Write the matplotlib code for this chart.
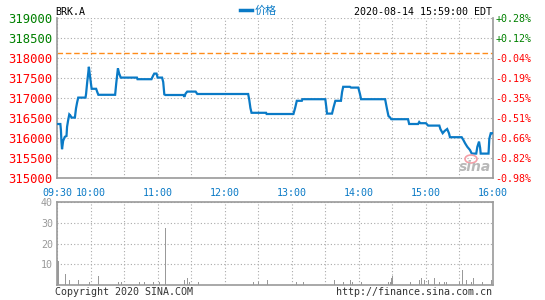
import matplotlib
matplotlib.use("Agg")
import matplotlib.pyplot as plt
from matplotlib.patches import Ellipse

# price line: minutes after 09:30 and price at that point
minutes = [0, 3, 3.5, 4, 4.5, 5.5, 7, 8.5, 9, 10, 11, 12, 13, 16, 17, 18, 19,
           25.5, 26, 27, 28, 28.5, 29.5, 30.5, 31, 35, 36, 37, 52, 53, 54, 54.5,
           55.5, 57, 71.5, 72, 84.5, 86, 87, 89, 90, 94, 95, 96, 97, 113, 114,
           115, 116.5, 124, 125.5, 171, 172, 173, 174, 187, 187.5, 211.5, 213,
           214.5, 219, 219.5, 240, 241, 241.5, 246, 247.5, 249, 254, 255, 256,
           262, 263, 269.5, 271, 272, 293.5, 295, 296.5, 298, 299, 314, 315,
           323, 324, 325, 330, 332, 342, 343, 345, 346.7, 349, 350.6, 351.5,
           362, 363.5, 365, 367, 369.4, 371, 375, 376, 377.5, 378.5, 379, 386,
           386.7, 388, 389]
prices = [316350, 316350, 316200, 315900, 315720, 315930, 316030, 316050,
          316280, 316450, 316590, 316560, 316510, 316510, 316740, 316890,
          317010, 317010, 317100, 317390, 317640, 317780, 317550, 317330,
          317230, 317230, 317150, 317080, 317080, 317370, 317620, 317740,
          317620, 317510, 317510, 317470, 317470, 317560, 317610, 317610,
          317510, 317510, 317400, 317090, 317075, 317075, 317030, 317110,
          317160, 317160, 317100, 317100, 316950, 316750, 316630, 316630,
          316600, 316600, 316750, 316930, 316930, 316970, 316970, 316750,
          316610, 316610, 316780, 316930, 316930, 317150, 317280, 317280,
          317260, 317260, 317100, 316970, 316970, 316750, 316550, 316510,
          316470, 316470, 316350, 316350, 316400, 316370, 316370, 316310,
          316310, 316220, 316120, 316175, 316225, 316120, 316020, 316020,
          315950, 315870, 315780, 315700, 315610, 315610, 315780, 315910,
          315750, 315610, 315610, 315980, 316120, 316120]
prev_close = 318125

# volume bars
vol_minutes = [0, 1, 5, 7, 11, 13, 19, 29, 30, 37, 55, 57, 73, 78, 86, 91, 97,
               114, 116, 118, 126, 175, 180, 188, 214, 220, 242, 248, 256, 262,
               264, 272, 296, 298, 299, 300, 316, 324, 326, 328, 332, 337, 342,
               344, 346, 348, 352, 360, 362, 366, 370, 372, 378, 380, 388]
volumes = [12, 11.5, 9.3, 5.5, 2.6, 1.6, 2.6, 1.6, 2.6, 4.5, 1.6, 1.6, 1.6,
           1.6, 1.6, 1.6, 27.3, 2.6, 3.5, 1.6, 1.6, 1.6, 1.6, 2.6, 1.6, 1.6,
           3.5, 2.6, 1.6, 2.6, 1.6, 1.6, 1.6, 1.6, 3.2, 4.5, 1.6, 2.6, 3.5,
           2.6, 2.6, 3.5, 1.6, 5.5, 1.6, 1.6, 2.6, 1.6, 7.4, 2.6, 1.6, 3.5,
           1.6, 1.6, 2.6]

price_ticks = [315000, 315500, 316000, 316500, 317000, 317500, 318000, 318500, 319000]
pct_labels = ["-0.98%", "-0.82%", "-0.66%", "-0.51%", "-0.35%", "-0.19%",
              "-0.04%", "+0.12%", "+0.28%"]
time_ticks = [0, 30, 90, 150, 210, 270, 330, 390]
time_labels = ["09:30", "10:00", "11:00", "12:00", "13:00", "14:00", "15:00", "16:00"]
vol_ticks = [10, 20, 30, 40]

MONO = "DejaVu Sans Mono"
GREEN = "#008000"
RED = "#ff0000"
BLUE = "#0a7ac6"
GRID = "#aaaaaa"
EDGE = "#999999"

fig = plt.figure(figsize=(5.45, 3.0), dpi=100)
ax = fig.add_axes([57 / 545, 1 - 178 / 300, 436 / 545, 160 / 300])
axv = fig.add_axes([57 / 545, 1 - 285 / 300, 436 / 545, 83 / 300])

# watermark (behind the line)
fig.text(475 / 545, 1 - 167 / 300, "sina", ha="center", va="center",
         fontsize=10, fontweight="bold", style="italic", color="#b8b8b8",
         zorder=0)
fig.patches.append(Ellipse((471 / 545, 1 - 159 / 300), 12 / 545, 8 / 300,
                           transform=fig.transFigure, fill=False,
                           edgecolor="#f5a0a8", lw=1.2, zorder=0))
ax.patch.set_alpha(0)

# main price panel
ax.plot(minutes, prices, color=BLUE, lw=1.6, solid_joinstyle="miter", zorder=3)
ax.axhline(prev_close, color="#ff8c1a", lw=1, ls=(0, (4, 2)), zorder=2)
ax.set_xlim(0, 390)
ax.set_ylim(315000, 319000)
ax.set_xticks(range(0, 391, 30))
ax.set_xticklabels([])
ax.set_yticks(price_ticks)
ax.set_yticklabels([str(p) for p in price_ticks], fontfamily=MONO, fontsize=8.8)
for lbl, p in zip(ax.get_yticklabels(), price_ticks):
    lbl.set_color(GREEN if p > prev_close else RED)
ax.tick_params(axis="y", length=0, pad=3)
ax.tick_params(axis="x", length=0)
ax.grid(True, color=GRID, ls=(0, (1, 2)), lw=0.8)
for side in ["left", "bottom", "right"]:
    ax.spines[side].set_color(EDGE)
    ax.spines[side].set_linewidth(1.2)
ax.spines["top"].set_visible(False)

axr = ax.twinx()
axr.set_ylim(ax.get_ylim())
axr.set_yticks(price_ticks)
axr.set_yticklabels(pct_labels, fontfamily=MONO, fontsize=7.2)
for lbl, p in zip(axr.get_yticklabels(), price_ticks):
    lbl.set_color(GREEN if p > prev_close else RED)
axr.tick_params(axis="y", length=0, pad=1.5)
axr.patch.set_alpha(0)
for s in axr.spines.values():
    s.set_visible(False)

for t, lab in zip(time_ticks, time_labels):
    ax.text(t, 314750, lab, ha="center", va="top", color=BLUE,
            fontfamily=MONO, fontsize=7.2, clip_on=False)

# header
fig.text(55 / 545, 1 - 12 / 300, "BRK.A", ha="left", va="center",
         fontfamily=MONO, fontsize=7.2, color="black")
fig.lines.append(plt.Line2D([240 / 545, 252 / 545], [1 - 10 / 300, 1 - 10 / 300],
                            transform=fig.transFigure, color=BLUE, lw=2.5))
fig.text(255 / 545, 1 - 11 / 300, "价格", ha="left", va="center",
         fontfamily=["Noto Sans CJK SC", "DejaVu Sans"], fontsize=8, color=BLUE)
fig.text(492 / 545, 1 - 12 / 300, "2020-08-14 15:59:00 EDT", ha="right",
         va="center", fontfamily=MONO, fontsize=7.2, color="black")

# volume panel
axv.bar(vol_minutes, volumes, width=0.8, color=EDGE, align="edge", zorder=3)
axv.set_xlim(0, 390)
axv.set_ylim(0, 40)
axv.set_xticks(range(0, 391, 30))
axv.set_xticklabels([])
axv.set_yticks(vol_ticks)
axv.set_yticklabels([str(v) for v in vol_ticks], fontfamily=MONO, fontsize=7.2,
                    color=EDGE)
axv.tick_params(length=0, pad=3)
axv.grid(True, color=GRID, ls=(0, (1, 2)), lw=0.8)
for s in axv.spines.values():
    s.set_color(EDGE)
    s.set_linewidth(1.2)

fig.text(55 / 545, 1 - 292 / 300, "Copyright 2020 SINA.COM", ha="left",
         va="center", fontfamily=MONO, fontsize=7.2, color="#333333")
fig.text(492 / 545, 1 - 292 / 300, "http://finance.sina.com.cn", ha="right",
         va="center", fontfamily=MONO, fontsize=7.2, color="#333333")

fig.savefig("out.png", dpi=100)
